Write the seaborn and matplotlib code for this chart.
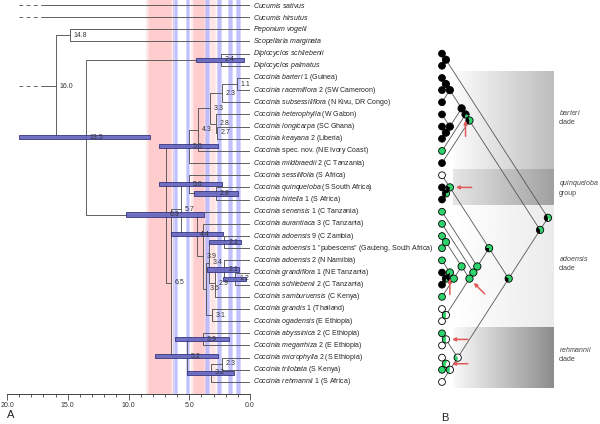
import numpy as np
import pandas as pd
import matplotlib
matplotlib.use("Agg")
import matplotlib.pyplot as plt
from matplotlib.patches import Wedge, Circle
from matplotlib.ticker import MultipleLocator
import seaborn as sns

# ---------------- data ----------------
tip_italic = ["Cucumis sativus", "Cucumis hirsutus", "Peponium vogelii", "Scopellaria marginata",
              "Diplocyclos schliebenii", "Diplocyclos palmatus", "Coccinia barteri", "Coccinia racemiflora",
              "Coccinia subsessiliflora", "Coccinia heterophylla", "Coccinia longicarpa", "Coccinia keayana",
              "Coccinia", "Coccinia mildbraedii", "Coccinia sessilifolia", "Coccinia quinqueloba",
              "Coccinia hirtella", "Coccinia senensis", "Coccinia aurantiaca", "Coccinia adoensis",
              "Coccinia adoensis", "Coccinia adoensis", "Coccinia grandiflora", "Coccinia schliebenii",
              "Coccinia samburuensis", "Coccinia grandis", "Coccinia ogadensis", "Coccinia abyssinica",
              "Coccinia megarrhiza", "Coccinia microphylla", "Coccinia trilobata", "Coccinia rehmannii"]
tip_suffix = ["", "", "", "", "", "", " 1 (Guinea)", " 2 (SW Cameroon)", " (N Kivu, DR Congo)",
              " (W Gabon)", " (SC Ghana)", " 2 (Liberia)", " spec. nov. (NE Ivory Coast)", " 2 (C Tanzania)",
              " (S Africa)", " (S South Africa)", " 1 (S Africa)", " 1 (C Tanzania)", " 3 (C Tanzania)",
              " 9 (C Zambia)", ' 1 "pubescens" (Gauteng, South Africa)', " 2 (N Namibia)",
              " 1 (NE Tanzania)", " 2 (C Tanzania)", " (C Kenya)", " 1 (Thailand)", " (E Ethiopia)",
              " 2 (C Ethiopia)", " 2 (E Ethiopia)", " 2 (S Ethiopia)", " (S Kenya)", " 1 (S Africa)"]

node_names = ["D", "b11", "b23", "b27", "b28", "b33", "b43", "b50", "q28", "q50",
              "a21a", "a12", "a21b", "a29", "a34", "a31", "a36", "a39", "a44", "n57",
              "r39", "r23", "r32", "r52", "n65", "n69", "n135", "n148", "n160"]
node_ages = [2.4, 1.1, 2.3, 2.7, 2.8, 3.3, 4.3, 5.0, 2.8, 5.0,
             2.1, 1.2, 2.1, 2.9, 3.4, 3.1, 3.6, 3.9, 4.4, 5.7,
             3.9, 2.3, 3.2, 5.2, 6.5, 6.9, 13.5, 14.8, 16.0]
node_kids = [(4, 5), (6, 7), ("b11", 8), (10, 11), (9, "b27"), ("b23", "b28"), ("b33", 12), ("b43", 13),
             (15, 16), (14, "q28"),
             (19, 20), (22, 23), (21, "a12"), ("a21b", 24), ("a21a", "a29"), (25, 26), ("a34", "a31"),
             (18, "a36"), (17, "a39"), ("q50", "a44"),
             (27, 28), (29, 30), ("r23", 31), ("r39", "r32"), ("n57", "r52"), ("b50", "n65"),
             ("D", "n69"), (2, 3), ("n148", "n135")]

hpd_nodes = ["n135", "D", "b50", "q50", "q28", "n69", "a44", "a21a", "a21b", "a12", "r39", "r52", "r32"]
hpd_low = [8.2, 0.5, 2.65, 2.3, 1.0, 3.8, 2.2, 0.75, 0.9, 0.3, 1.7, 2.65, 1.3]
hpd_high = [19.0, 4.46, 7.5, 7.5, 4.6, 10.2, 6.5, 3.4, 3.5, 2.2, 6.2, 7.85, 5.2]

outgroup_tips = [0, 1]
outgroup_solid_from = 17.0
outgroup_dash_from = 19.0

warm_start = [8.3, 4.6, 3.2]
warm_end = [6.5, 3.8, 2.9]
warm_strength = [1.0, 1.0, 0.45]
cool_ages = [6.1, 5.1, 3.5, 2.5, 1.6, 0.95]

axis_ticks = [20, 15, 10, 5, 0]

# panel B: character states (tips from Diplocyclos schliebenii downward)
b_tip_rows = list(range(4, 32))
b_tip_state = (["black"] * 8 + ["green", "black", "white", "black", "black"] + ["green"] * 5 +
               ["black", "black", "green", "white", "white", "green", "white", "white", "green", "white"])
b_node_pies = {  # (black, green, white)
    "D": (1, 0, 0), "b11": (1, 0, 0), "b23": (1, 0, 0), "b27": (1, 0, 0), "b28": (1, 0, 0),
    "b33": (1, 0, 0), "b43": (0.8, 0.2, 0), "b50": (0.45, 0.55, 0), "q28": (0.7, 0.3, 0),
    "q50": (0.35, 0.65, 0), "a21a": (0, 1, 0), "a12": (0.9, 0.1, 0), "a21b": (0.15, 0.85, 0),
    "a29": (0, 1, 0), "a34": (0, 1, 0), "a31": (0, 0.5, 0.5), "a36": (0, 1, 0), "a39": (0, 1, 0),
    "a44": (0, 1, 0), "n57": (0.3, 0.7, 0), "r39": (0, 0.5, 0.5), "r23": (0, 0.6, 0.4),
    "r32": (0, 0.5, 0.5), "r52": (0, 0.4, 0.6), "n65": (0.35, 0.65, 0), "n69": (0.4, 0.6, 0),
    "n135": (0.45, 0.5, 0.05)}
clade_names = ["barteri", "quinqueloba", "adoensis", "rehmannii"]
clade_words = ["clade", "group", "clade", "clade"]
clade_rows = [(5.5, 13.5), (13.5, 16.5), (16.5, 26.5), (26.5, 31.5)]
clade_grey = [(0.99, 0.74), (0.90, 0.63), (1.0, 0.92), (0.98, 0.55)]
arrow_nodes = ["b43", "q50", "a21b", "a36", "r39", "r23"]
arrow_dir = [(0, 1), (1, 0), (0, 1), (0.7, 0.7), (1, 0), (1, 0)]

# ---------------- style ----------------
sns.set_theme(style="white")
plt.rcParams['font.family'] = ['Liberation Sans', 'DejaVu Sans']
plt.rcParams['mathtext.fontset'] = 'custom'
plt.rcParams['mathtext.it'] = 'Liberation Sans:italic'
plt.rcParams['mathtext.rm'] = 'Liberation Sans'

W, H = 600, 424
fig = plt.figure(figsize=(6, 4.24), dpi=100)
fig.patch.set_facecolor("white")
px_row = 12.16
top_row = -5 / px_row
ax_h = 394
bot_row = top_row + ax_h / px_row

axA = fig.add_axes([7 / W, (H - ax_h) / H, 243 / W, ax_h / H])
axA.set_xlim(20, 0)
axA.set_ylim(bot_row, top_row)
axA.set_facecolor("none")

lc = "#555555"
lw = 0.65

# climate bands
red = "#ff9a9a"
blue = "#9a9aff"
for s, e, k in zip(warm_start, warm_end, warm_strength):
    for ext in (0.0, 0.12, 0.25):
        axA.axvspan(e - ext, s + ext, color=red, alpha=0.2 * k, lw=0, zorder=0)
for c in cool_ages:
    for half in (0.1, 0.2):
        axA.axvspan(c - half, c + half, color=blue, alpha=0.38, lw=0, zorder=0)

# tree layout panel A
ypos = {i: float(i) for i in range(len(tip_italic))}
xpos = {i: 0.0 for i in range(len(tip_italic))}
for n, a, k in zip(node_names, node_ages, node_kids):
    ypos[n] = (ypos[k[0]] + ypos[k[1]]) / 2
    xpos[n] = a

for n, a, k in zip(node_names, node_ages, node_kids):
    axA.plot([a, a], [ypos[k[0]], ypos[k[1]]], color=lc, lw=lw, zorder=2, solid_capstyle="butt")
    for kid in k:
        axA.plot([a, xpos[kid]], [ypos[kid], ypos[kid]], color=lc, lw=lw, zorder=2)

for t in outgroup_tips:
    axA.plot([outgroup_solid_from, 0], [ypos[t], ypos[t]], color=lc, lw=lw, zorder=2)
    axA.plot([outgroup_dash_from, outgroup_solid_from], [ypos[t], ypos[t]], color=lc, lw=lw,
             ls=(0, (4, 4)), zorder=2)
root = node_names[-1]
axA.plot([outgroup_solid_from, xpos[root]], [ypos[root], ypos[root]], color=lc, lw=lw, zorder=2)
axA.plot([outgroup_dash_from, outgroup_solid_from], [ypos[root], ypos[root]], color=lc, lw=lw,
         ls=(0, (4, 4)), zorder=2)

# HPD bars
axA.barh([ypos[n] for n in hpd_nodes], np.array(hpd_high) - np.array(hpd_low), left=hpd_low,
         height=0.34, color=(0.42, 0.42, 0.76), edgecolor="#2e2e7a", linewidth=0.6, alpha=0.95, zorder=3)

# node labels
for n, a in zip(node_names, node_ages):
    axA.text(a - 0.3, ypos[n], f"{a:.1f}", fontsize=5, color="#333333", va="center", ha="left", zorder=4)

# tip labels
for i, (it, suf) in enumerate(zip(tip_italic, tip_suffix)):
    lab = r"$\mathit{" + it.replace(" ", r"\ ") + "}$" + suf
    axA.text(-0.25, ypos[i], lab, fontsize=5.0, color="#222222", va="center", ha="left", clip_on=False)

axA.set_yticks([])
axA.set_xticks(axis_ticks)
axA.set_xticklabels([f"{t:.1f}" for t in axis_ticks])
axA.xaxis.set_minor_locator(MultipleLocator(1))
axA.tick_params(axis="x", which="both", bottom=True, direction="out", color="#444444", width=0.6)
axA.tick_params(axis="x", which="major", length=4, labelsize=5, pad=1.5, labelcolor="#333333")
axA.tick_params(axis="x", which="minor", length=2)
for sp in ("top", "left", "right"):
    axA.spines[sp].set_visible(False)
axA.spines["bottom"].set_color("#444444")
axA.spines["bottom"].set_linewidth(0.7)

# ---------------- panel B ----------------
x0px = 442
axB = fig.add_axes([400 / W, (H - ax_h) / H, 200 / W, ax_h / H])
axB.set_facecolor("none")
slope = 1.55
bx = {r: 0.0 for r in b_tip_rows}
by = {r: float(r) for r in b_tip_rows}
b_nodes = [n for n in node_names if n in b_node_pies]
for n in b_nodes:
    k1, k2 = node_kids[node_names.index(n)]
    x1, y1, x2, y2 = bx[k1], by[k1], bx[k2], by[k2]
    xn = (x1 + x2) / 2 + (y2 - y1) / (2 * slope)
    bx[n] = xn
    by[n] = y1 + slope * (xn - x1)

# grey gradient boxes
for (r0, r1), (g0, g1) in zip(clade_rows, clade_grey):
    grad = np.linspace(g0, g1, 256)[None, :]
    axB.imshow(grad, cmap="gray", vmin=0, vmax=1, aspect="auto",
               extent=((453 - x0px) / px_row, (554 - x0px) / px_row, r1, r0), zorder=0)

# branches
for n in b_nodes:
    for kid in node_kids[node_names.index(n)]:
        axB.plot([bx[kid], bx[n]], [by[kid], by[n]], color="#555555", lw=0.6, zorder=1)

green = "#2fd36b"
cols = {"black": "black", "green": green, "white": "white"}
df_tips = pd.DataFrame({"x": [bx[r] for r in b_tip_rows], "y": [by[r] for r in b_tip_rows],
                        "state": b_tip_state})
sns.scatterplot(data=df_tips, x="x", y="y", hue="state", palette=cols, s=24, edgecolor="black",
                linewidth=0.6, legend=False, ax=axB, zorder=3)

rad = 0.3
for n in b_nodes:
    start = 90.0
    for frac, c in zip(b_node_pies[n], ("black", green, "white")):
        if frac > 0:
            axB.add_patch(Wedge((bx[n], by[n]), rad, start, start + 360 * frac, facecolor=c,
                                edgecolor="none", zorder=3))
            start += 360 * frac
    axB.add_patch(Circle((bx[n], by[n]), rad, facecolor="none", edgecolor="black", lw=0.6, zorder=3.5))

# red arrows
for n, (dx, dy) in zip(arrow_nodes, arrow_dir):
    hx, hy = bx[n] + dx * 0.5, by[n] + dy * 0.5
    tx, ty = bx[n] + dx * 1.8, by[n] + dy * 1.8
    axB.annotate("", xy=(hx, hy), xytext=(tx, ty),
                 arrowprops=dict(arrowstyle="-|>", color="#e05a5a", lw=1.1, mutation_scale=5,
                                 shrinkA=0, shrinkB=0), zorder=4)

# clade labels
for name, word, (r0, r1) in zip(clade_names, clade_words, clade_rows):
    axB.text((559 - x0px) / px_row, (r0 + r1) / 2 - 0.3 if name != "quinqueloba" else (r0 + r1) / 2,
             r"$\mathit{" + name + "}$" + "\n" + word, fontsize=5, color="#444444",
             va="center", ha="left", linespacing=1.3)

axB.set_xlim(-42 / px_row, 158 / px_row)
axB.set_ylim(bot_row, top_row)
axB.axis("off")

fig.text(7 / W, 1 - 415 / H, "A", fontsize=8, ha="left", va="center", color="#222222")
fig.text(441 / W, 1 - 418 / H, "B", fontsize=8, ha="left", va="center", color="#222222")

fig.savefig("out.png", dpi=100, facecolor="white")
